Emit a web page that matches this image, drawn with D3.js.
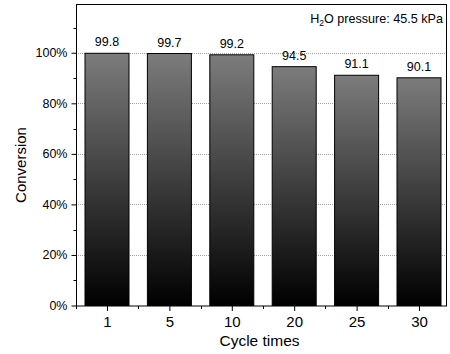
<!DOCTYPE html>
<html>
<head>
<meta charset="utf-8">
<script src="https://cdn.jsdelivr.net/npm/d3@7"></script>
<style>
  body { margin: 0; background: #fff; }
  text { font-family: "Liberation Sans", Arial, sans-serif; fill: #000; }
</style>
</head>
<body>
<div id="chart"></div>
<script>
var width = 450;
var height = 354;

// data
var cycles = ["1", "5", "10", "20", "25", "30"];
var conversion = [99.8, 99.7, 99.2, 94.5, 91.1, 90.1];
var yTicks = [0, 20, 40, 60, 80, 100];
var yMinor = [10, 30, 50, 70, 90, 110];

// plot box (window.top is read-only, so no "top" here)
var plotL = 76, plotR = 447, plotT = 4, plotB = 305.5;

var x = d3.scaleLinear().domain([0, cycles.length - 1]).range([107, 419]);
var y = d3.scaleLinear().domain([0, 119.3]).range([plotB, plotT]);
var barW = 44;

var svg = d3.select("#chart").append("svg")
  .attr("width", width)
  .attr("height", height);

var grad = svg.append("defs").append("linearGradient")
  .attr("id", "barGrad")
  .attr("x1", 0).attr("y1", 0).attr("x2", 0).attr("y2", 1);
grad.append("stop").attr("offset", "0%").attr("stop-color", "#7c7c7c");
grad.append("stop").attr("offset", "100%").attr("stop-color", "#000");

// dotted grid
svg.append("g").selectAll("line")
  .data(yTicks.slice(1))
  .enter().append("line")
  .attr("x1", plotL).attr("x2", plotR)
  .attr("y1", function(d) { return Math.round(y(d)) + 0.5; })
  .attr("y2", function(d) { return Math.round(y(d)) + 0.5; })
  .attr("stroke", "#a0a0a0")
  .attr("stroke-dasharray", "1,1");

// bars
svg.append("g").selectAll("rect")
  .data(conversion)
  .enter().append("rect")
  .attr("x", function(d, i) { return x(i) - barW / 2; })
  .attr("y", function(d) { return y(d); })
  .attr("width", barW)
  .attr("height", function(d) { return plotB - y(d); })
  .attr("fill", "url(#barGrad)")
  .attr("stroke", "#000")
  .attr("stroke-width", 1);

// value labels
svg.append("g").selectAll("text")
  .data(conversion)
  .enter().append("text")
  .attr("x", function(d, i) { return x(i); })
  .attr("y", function(d) { return y(d) - 7; })
  .attr("text-anchor", "middle")
  .style("font-size", "12.5px")
  .text(function(d) { return d.toFixed(1); });

// frame
svg.append("rect")
  .attr("x", plotL + 0.5).attr("y", plotT + 0.5)
  .attr("width", plotR - plotL - 1).attr("height", plotB - plotT)
  .attr("fill", "none")
  .attr("stroke", "#000")
  .attr("stroke-width", 1);

// y axis
var yAxis = d3.axisLeft(y)
  .tickValues(yTicks)
  .tickSize(5)
  .tickPadding(4)
  .tickFormat(function(d) { return d + "%"; });
var gy = svg.append("g")
  .attr("transform", "translate(" + (plotL + 0.5) + ",0)")
  .call(yAxis);
gy.select(".domain").remove();
gy.selectAll("text").style("font-size", "12.5px").attr("font-family", null);

svg.append("g").selectAll("line")
  .data(yMinor)
  .enter().append("line")
  .attr("x1", plotL + 0.5).attr("x2", plotL - 2.5)
  .attr("y1", function(d) { return Math.round(y(d)) + 0.5; })
  .attr("y2", function(d) { return Math.round(y(d)) + 0.5; })
  .attr("stroke", "#000");

// x axis
var xAxis = d3.axisBottom(x)
  .tickValues(d3.range(cycles.length))
  .tickSize(5)
  .tickPadding(5)
  .tickFormat(function(d) { return cycles[d]; });
var gx = svg.append("g")
  .attr("transform", "translate(0," + (plotB + 0.5) + ")")
  .call(xAxis);
gx.select(".domain").remove();
gx.selectAll("text").style("font-size", "15px").attr("font-family", null);

svg.append("g").selectAll("line")
  .data(d3.range(cycles.length + 1).map(function(i) { return i - 0.5; }))
  .enter().append("line")
  .attr("x1", function(d) { return Math.round(x(d)) + 0.5; })
  .attr("x2", function(d) { return Math.round(x(d)) + 0.5; })
  .attr("y1", plotB + 0.5).attr("y2", plotB + 3.5)
  .attr("stroke", "#000");

// axis titles
svg.append("text")
  .attr("x", (plotL + plotR) / 2 - 2)
  .attr("y", 346)
  .attr("text-anchor", "middle")
  .style("font-size", "15.5px")
  .text("Cycle times");

svg.append("text")
  .attr("transform", "translate(26,165) rotate(-90)")
  .attr("text-anchor", "middle")
  .style("font-size", "15px")
  .text("Conversion");

// annotation
var note = svg.append("text")
  .attr("x", 443)
  .attr("y", 23)
  .attr("text-anchor", "end")
  .style("font-size", "12.6px");
note.append("tspan").text("H");
note.append("tspan").attr("dy", 3).style("font-size", "8.5px").text("2");
note.append("tspan").attr("dy", -3).text("O pressure: 45.5 kPa");
</script>
</body>
</html>
